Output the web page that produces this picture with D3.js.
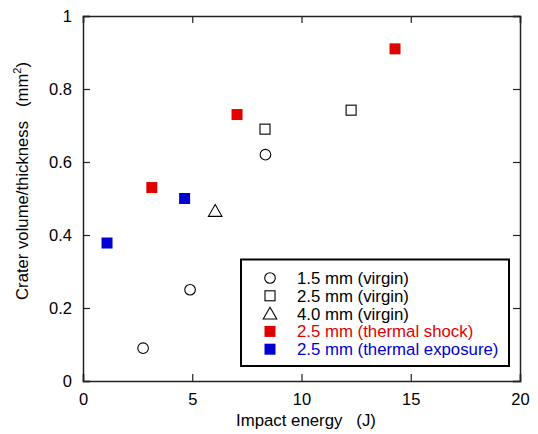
<!DOCTYPE html>
<html>
<head>
<meta charset="utf-8">
<script src="https://cdn.jsdelivr.net/npm/d3@7"></script>
<style>
  body { margin: 0; background: #fff; }
  text { font-family: "Liberation Sans", Arial, sans-serif; }
</style>
</head>
<body>
<svg id="chart" width="538" height="434"></svg>
<script>
// series
var virgin15 = [[2.75, 0.09], [4.9, 0.25], [8.35, 0.62]];
var virgin25 = [[8.33, 0.69], [12.27, 0.742]];
var virgin40 = [[6.05, 0.466]];
var shock25 = [[3.15, 0.53], [7.05, 0.73], [14.28, 0.91]];
var exposure25 = [[1.1, 0.378], [4.65, 0.5]];

var xTicks = [0, 5, 10, 15, 20];
var yTicks = [0, 0.2, 0.4, 0.6, 0.8, 1];

var legendLabels = ['1.5 mm (virgin)', '2.5 mm (virgin)', '4.0 mm (virgin)',
  '2.5 mm (thermal shock)', '2.5 mm (thermal exposure)'];

var chart = {};

chart.draw = function () {
  var svg = d3.select('#chart');
  var mLeft = 83, mRight = 520, mTop = 16, mBottom = 381;

  var x = d3.scaleLinear().domain([0, 20]).range([mLeft, mRight]);
  var y = d3.scaleLinear().domain([0, 1]).range([mBottom, mTop]);

  var red = '#e00000', blue = '#0000d0';

  // frame + inward ticks
  svg.append('g').attr('transform', 'translate(0,' + mBottom + ')')
    .call(d3.axisBottom(x).tickValues(xTicks).tickSize(-7).tickPadding(12).tickFormat(d3.format('')));
  svg.append('g').attr('transform', 'translate(0,' + mTop + ')')
    .call(d3.axisTop(x).tickValues(xTicks).tickSize(-7).tickFormat(''));
  svg.append('g').attr('transform', 'translate(' + mLeft + ',0)')
    .call(d3.axisLeft(y).tickValues(yTicks).tickSize(-7).tickPadding(11).tickFormat(d3.format('')));
  svg.append('g').attr('transform', 'translate(' + mRight + ',0)')
    .call(d3.axisRight(y).tickValues(yTicks).tickSize(-7).tickFormat(''));

  svg.selectAll('.domain').attr('stroke', '#222').attr('stroke-width', 1.5);
  svg.selectAll('.tick line').attr('stroke', '#222').attr('stroke-width', 1.2);
  svg.selectAll('.tick text').attr('font-size', 16.5).attr('fill', '#000')
    .attr('font-family', '"Liberation Sans", Arial, sans-serif');

  // axis titles
  svg.append('text').attr('x', 306).attr('y', 426).attr('text-anchor', 'middle')
    .attr('font-size', 16.8).text('Impact energy\u00a0\u00a0\u00a0(J)');
  var yt = svg.append('text').attr('transform', 'translate(28,181) rotate(-90)')
    .attr('text-anchor', 'middle').attr('font-size', 16.7);
  yt.append('tspan').text('Crater volume/thickness\u00a0\u00a0\u00a0(mm');
  yt.append('tspan').attr('font-size', 11).attr('dy', -7).text('2');
  yt.append('tspan').attr('dy', 7).text(')');

  // markers
  var tri = d3.symbol().type(d3.symbolTriangle).size(80);

  var squares = function (data, size, fill, stroke) {
    svg.append('g').selectAll('rect').data(data).enter().append('rect')
      .attr('x', function (d) { return x(d[0]) - size / 2; })
      .attr('y', function (d) { return y(d[1]) - size / 2; })
      .attr('width', size).attr('height', size)
      .attr('fill', fill).attr('stroke', stroke).attr('stroke-width', 1.1);
  };

  svg.append('g').selectAll('circle').data(virgin15).enter().append('circle')
    .attr('cx', function (d) { return x(d[0]); })
    .attr('cy', function (d) { return y(d[1]); })
    .attr('r', 5.3).attr('fill', 'none').attr('stroke', '#000').attr('stroke-width', 1.1);

  squares(virgin25, 10, 'none', '#000');

  svg.append('g').selectAll('path').data(virgin40).enter().append('path')
    .attr('d', tri)
    .attr('transform', function (d) { return 'translate(' + x(d[0]) + ',' + (y(d[1]) + 1.5) + ')'; })
    .attr('fill', 'none').attr('stroke', '#000').attr('stroke-width', 1.1);

  squares(shock25, 11, red, 'none');
  squares(exposure25, 11, blue, 'none');

  // legend
  var lg = svg.append('g');
  lg.append('rect').attr('x', 241).attr('y', 259.5).attr('width', 268).attr('height', 106.5)
    .attr('fill', '#fff').attr('stroke', '#000').attr('stroke-width', 2);

  var colors = ['#000', '#000', '#000', red, blue];
  legendLabels.forEach(function (t, i) {
    var cy = 278 + i * 17.8, cx = 270;
    if (i === 0) {
      lg.append('circle').attr('cx', cx).attr('cy', cy).attr('r', 5.3)
        .attr('fill', 'none').attr('stroke', '#000').attr('stroke-width', 1.1);
    } else if (i === 1) {
      lg.append('rect').attr('x', cx - 5).attr('y', cy - 5).attr('width', 10).attr('height', 10)
        .attr('fill', 'none').attr('stroke', '#000').attr('stroke-width', 1.1);
    } else if (i === 2) {
      lg.append('path').attr('d', tri).attr('transform', 'translate(' + cx + ',' + (cy + 1.5) + ')')
        .attr('fill', 'none').attr('stroke', '#000').attr('stroke-width', 1.1);
    } else {
      lg.append('rect').attr('x', cx - 5.5).attr('y', cy - 5.5).attr('width', 11).attr('height', 11)
        .attr('fill', colors[i]);
    }
    lg.append('text').attr('x', 297).attr('y', cy + 6).attr('font-size', 16.8)
      .attr('fill', colors[i]).text(t);
  });
};

chart.draw();
</script>
</body>
</html>
